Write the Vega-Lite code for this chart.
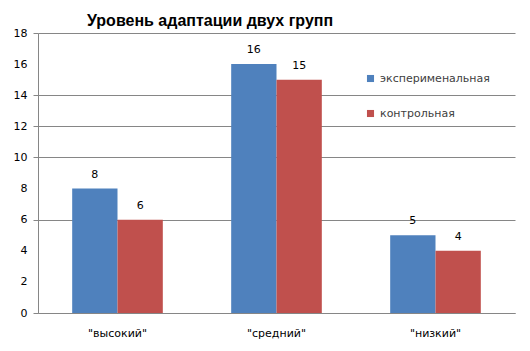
{
  "$schema": "https://vega.github.io/schema/vega-lite/v6.json",
  "width": 477,
  "height": 280,
  "autosize": {"type": "none"},
  "padding": {"left": 38, "top": 33, "right": 15, "bottom": 38},
  "background": "white",
  "title": {
    "text": "Уровень адаптации  двух групп",
    "font": "Liberation Sans",
    "fontSize": 16,
    "fontWeight": "bold",
    "color": "black",
    "anchor": "start",
    "dx": 74,
    "offset": -2
  },
  "config": {
    "view": {"stroke": null},
    "font": "DejaVu Sans"
  },
  "data": {
    "values": [
      {"level": "\"высокий\"", "group": "эксперименальная", "value": 8},
      {"level": "\"высокий\"", "group": "контрольная", "value": 6},
      {"level": "\"средний\"", "group": "эксперименальная", "value": 16},
      {"level": "\"средний\"", "group": "контрольная", "value": 15},
      {"level": "\"низкий\"", "group": "эксперименальная", "value": 5},
      {"level": "\"низкий\"", "group": "контрольная", "value": 4}
    ]
  },
  "encoding": {
    "x": {
      "field": "level",
      "type": "nominal",
      "sort": null,
      "scale": {"paddingInner": 0.43, "paddingOuter": 0.215},
      "axis": {
        "title": null,
        "labelAngle": 0,
        "labelFontSize": 11,
        "labelColor": "black",
        "labelPadding": 14,
        "ticks": false,
        "domainColor": "#868686",
        "domainWidth": 1
      }
    },
    "xOffset": {"field": "group", "type": "nominal", "sort": ["эксперименальная", "контрольная"]},
    "y": {
      "field": "value",
      "type": "quantitative",
      "scale": {"domain": [0, 18], "nice": false},
      "axis": {
        "title": null,
        "values": [0, 2, 4, 6, 8, 10, 12, 14, 16, 18],
        "labelFontSize": 11,
        "labelColor": "black",
        "labelPadding": 6,
        "tickSize": 5,
        "tickColor": "#868686",
        "tickOpacity": {"condition": {"test": "indexof([0,6,10,12,14,18], datum.value) >= 0", "value": 1}, "value": 0},
        "gridColor": "#868686",
        "gridOpacity": {"condition": {"test": "indexof([0,6,10,12,14,18], datum.value) >= 0", "value": 1}, "value": 0},
        "domainColor": "#868686"
      }
    }
  },
  "layer": [
    {
      "mark": {"type": "bar"},
      "encoding": {
        "color": {
          "field": "group",
          "type": "nominal",
          "sort": ["эксперименальная", "контрольная"],
          "scale": {"domain": ["эксперименальная", "контрольная"], "range": ["#4F81BD", "#C0504D"]},
          "legend": {
            "title": null,
            "orient": "none",
            "legendX": 327,
            "legendY": 40,
            "symbolType": "square",
            "symbolSize": 50,
            "symbolStrokeWidth": 0,
            "labelFontSize": 11,
            "labelColor": "#404040",
            "labelOffset": 4,
            "rowPadding": 23,
            "direction": "vertical"
          }
        }
      }
    },
    {
      "mark": {"type": "text", "baseline": "bottom", "dy": -9, "fontSize": 11, "color": "black"},
      "encoding": {
        "text": {"field": "value", "type": "quantitative"}
      }
    }
  ]
}
